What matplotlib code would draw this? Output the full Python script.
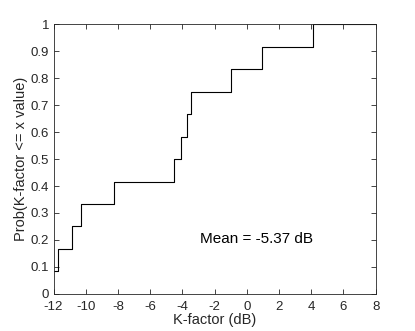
import matplotlib
matplotlib.use("Agg")
import matplotlib.pyplot as plt
import numpy as np

plt.rcParams['font.family'] = ['Liberation Sans', 'DejaVu Sans']
plt.rcParams['axes.unicode_minus'] = False

# K-factor samples (dB), read from the stair steps
kfactor = [-12.3, -11.74, -10.87, -10.29, -8.26, -4.49, -4.10, -3.69, -3.48, -0.98, 0.97, 4.10]
mean_text = "Mean = -5.37 dB"

xs = np.sort(kfactor)
ys = np.arange(1, len(xs) + 1) / len(xs)
xs = np.append(xs, 20)
ys = np.append(ys, 1.0)

fig = plt.figure(figsize=(4.15, 3.31), dpi=100)
ax = fig.add_axes([0.129, 0.112, 0.776, 0.815])
ax.step(xs, ys, where='post', color='black', linewidth=0.8)

ax.set_xlim(-12, 8)
ax.set_ylim(0, 1)
ax.set_xticks(np.arange(-12, 9, 2))
ax.set_yticks(np.arange(0, 1.01, 0.1))
ax.set_yticklabels(["0", "0.1", "0.2", "0.3", "0.4", "0.5", "0.6", "0.7", "0.8", "0.9", "1"])
ax.tick_params(direction='in', top=True, right=True, length=3.5, width=0.6,
               labelsize=9.5, colors='#262626')
ax.tick_params(axis='x', pad=5)
ax.tick_params(axis='y', pad=3)
for sp in ax.spines.values():
    sp.set_linewidth(0.6)
    sp.set_color('#262626')

ax.set_xlabel("K-factor (dB)", fontsize=10.5, labelpad=0, color='#262626')
ax.set_ylabel("Prob(K-factor <= x value)", fontsize=10.5, labelpad=2, color='#262626')
ax.text(-2.9, 0.205, mean_text, fontsize=11, ha='left', va='center')

fig.savefig("out.png", dpi=100)
